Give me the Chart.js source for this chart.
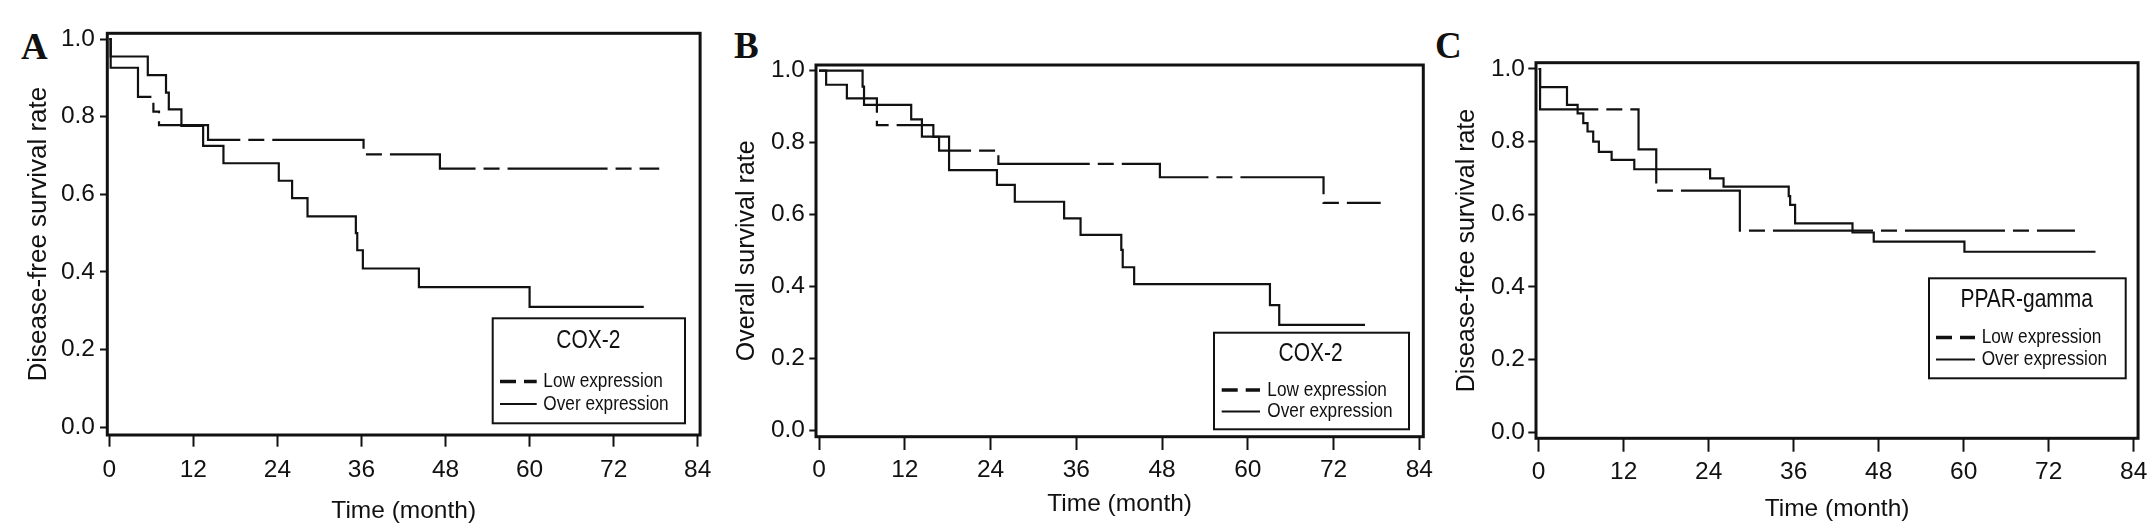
<!DOCTYPE html>
<html><head><meta charset="utf-8">
<script src="https://cdn.jsdelivr.net/npm/chart.js@4/dist/chart.umd.min.js"></script>
<style>
html,body{margin:0;padding:0;background:#fff;}
body{width:2153px;height:530px;position:relative;overflow:hidden;}
canvas{position:absolute;top:0;}
.lbl{position:absolute;font-family:"Liberation Serif","Times New Roman",serif;font-weight:bold;font-size:37px;line-height:37px;color:#111;}
</style></head><body>
<div class="lbl" style="left:21px;top:28px">A</div>
<div class="lbl" style="left:734px;top:27px">B</div>
<div class="lbl" style="left:1435px;top:27px">C</div>
<canvas id="cA" width="720" height="530" style="left:0px"></canvas>
<canvas id="cB" width="720" height="530" style="left:720px"></canvas>
<canvas id="cC" width="733" height="530" style="left:1420px"></canvas>
<script>
// ---------- data ----------
const monthTicks = [0, 12, 24, 36, 48, 60, 72, 84];
const rateTicks = [0, 0.2, 0.4, 0.6, 0.8, 1.0];
const seriesNames = ['Low expression', 'Over expression'];
const legendTitles = ['COX-2', 'COX-2', 'PPAR-gamma'];
const xTitle = 'Time (month)';
const yTitles = ['Disease-free survival rate', 'Overall survival rate', 'Disease-free survival rate'];

// Panel A (COX-2, disease-free)
const aLowTime  = [0, 0.2, 4.1, 6.3, 7.1, 14.1, 36.3, 47.2, 78.5];
const aLowRate  = [1.0, 0.926, 0.851, 0.813, 0.778, 0.740, 0.703, 0.666, 0.666];
const aOverTime = [0, 0.2, 5.5, 8.1, 8.5, 10.3, 13.4, 16.3, 24.2, 26.1, 28.3, 35.2, 35.4, 36.2, 44.2, 60.0, 76.3];
const aOverRate = [1.0, 0.955, 0.907, 0.862, 0.819, 0.776, 0.725, 0.680, 0.635, 0.590, 0.543, 0.500, 0.456, 0.409, 0.361, 0.310, 0.310];

// Panel B (COX-2, overall)
const bLowTime  = [0, 1.0, 3.9, 8.1, 16.0, 16.8, 25.1, 47.7, 70.6, 78.6];
const bLowRate  = [1.0, 0.961, 0.923, 0.849, 0.816, 0.778, 0.741, 0.704, 0.633, 0.633];
const bOverTime = [0, 6.1, 6.3, 12.9, 14.4, 18.2, 24.9, 27.4, 34.3, 36.6, 42.3, 42.5, 44.1, 63.1, 64.4, 76.4];
const bOverRate = [1.0, 0.956, 0.905, 0.865, 0.817, 0.724, 0.683, 0.636, 0.590, 0.544, 0.502, 0.454, 0.407, 0.349, 0.294, 0.294];

// Panel C (PPAR-gamma, disease-free)
const cLowTime  = [0, 0.2, 14.1, 16.6, 28.4, 75.7];
const cLowRate  = [1.0, 0.889, 0.779, 0.665, 0.555, 0.555];
const cOverTime = [0, 0.2, 4.0, 5.5, 6.3, 6.9, 7.7, 8.5, 10.3, 13.5, 24.2, 26.1, 35.3, 35.5, 36.2, 44.3, 47.3, 60.1, 78.6];
const cOverRate = [1.0, 0.950, 0.901, 0.878, 0.851, 0.828, 0.800, 0.772, 0.750, 0.724, 0.699, 0.676, 0.650, 0.626, 0.575, 0.550, 0.525, 0.497, 0.497];

// ---------- styling / layout ----------
const INK = '#111';
const SANS = '"Liberation Sans", Arial, Helvetica, sans-serif';

const panels = [
  { id:'cA', cl:0, cw:720, frame:{l:107.3, r:706.7, t:33.3, b:435}, xr:[-0.28, 84.34], yr:[-0.0198, 1.0147],
    yTick:[7.3,5], xTick:[11.7,8.6], yTitle:[26,23.1], xTitleS:[24.5,4.3],
    legend:{x:492.7, y:318.3, w:192.3, h:105, tx:588.3, ty:341.5, rows:[381.5,404], s0:500, s1:536.7, lx:543.3},
    low:[aLowTime,aLowRate], over:[aOverTime,aOverRate] },
  { id:'cB', cl:720, cw:720, frame:{l:816, r:1423.3, t:65, b:436.7}, xr:[-0.42, 84.56], yr:[-0.0167, 1.0158],
    yTick:[6.7,4.3], xTick:[13.3,5.3], yTitle:[25,12], xTitleS:[24.5,11.3],
    legend:{x:1214, y:332.7, w:195, h:96.6, tx:1310.7, ty:354, rows:[390,411.5], s0:1221.7, s1:1260, lx:1267.3},
    low:[bLowTime,bLowRate], over:[bOverTime,bOverRate] },
  { id:'cC', cl:1420, cw:733, frame:{l:1536, r:2149.3, t:62.7, b:438.3}, xr:[-0.374, 84.61], yr:[-0.0165, 1.0173],
    yTick:[7.7,3.3], xTick:[13.4,5.6], yTitle:[25,31.7], xTitleS:[24.5,5.8],
    legend:{x:1929, y:278.3, w:196.7, h:100, tx:2026.7, ty:300, rows:[337.5,359.5], s0:1936, s1:1975, lx:1981.7},
    low:[cLowTime,cLowRate], over:[cOverTime,cOverRate] }
];

const kmPlugin = {
  id: 'kmFrame',
  afterDatasetsDraw(chart, args, opts) {
    const ctx = chart.ctx, a = chart.chartArea, L = opts.legend, off = opts.offset;
    ctx.save();
    ctx.strokeStyle = INK; ctx.fillStyle = INK;
    ctx.lineWidth = 3; ctx.setLineDash([]);
    ctx.strokeRect(a.left, a.top, a.right - a.left, a.bottom - a.top);
    // legend box
    ctx.fillStyle = '#fff';
    ctx.fillRect(L.x - off, L.y, L.w, L.h);
    ctx.lineWidth = 2;
    ctx.strokeRect(L.x - off, L.y, L.w, L.h);
    ctx.fillStyle = INK;
    ctx.textBaseline = 'middle';
    // title (narrow face emulated by horizontal compression)
    ctx.save();
    ctx.font = '25px ' + SANS;
    ctx.translate(L.tx - off, L.ty);
    ctx.scale(0.84, 1);
    ctx.textAlign = 'center';
    ctx.fillText(opts.title, 0, 0);
    ctx.restore();
    ctx.font = '21px ' + SANS;
    chart.data.datasets.forEach((ds, i) => {
      const y = L.rows[i];
      ctx.beginPath();
      if (i === 0) { ctx.setLineDash([16, 8]); ctx.lineWidth = 3.5; }
      else { ctx.setLineDash([]); ctx.lineWidth = 2; }
      ctx.moveTo(L.s0 - off, y); ctx.lineTo(L.s1 - off, y); ctx.stroke();
      ctx.setLineDash([]);
      ctx.save();
      ctx.translate(L.lx - off, y);
      ctx.scale(0.82, 1);
      ctx.textAlign = 'left';
      ctx.fillText(ds.label, 0, 0);
      ctx.restore();
    });
    ctx.restore();
  }
};

function pts(t, s) { return t.map((v, i) => ({ x: v, y: s[i] })); }

panels.forEach((p, idx) => {
  const off = p.cl, f = p.frame;
  const lineBase = { stepped: 'before', pointRadius: 0, borderColor: INK, borderWidth: 2.2,
    fill: false, tension: 0, borderCapStyle: 'butt', borderJoinStyle: 'miter' };
  new Chart(document.getElementById(p.id), {
    type: 'line',
    data: { datasets: [
      Object.assign({ label: seriesNames[0], data: pts(p.low[0], p.low[1]), borderDash: [100, 8, 16, 8] }, lineBase),
      Object.assign({ label: seriesNames[1], data: pts(p.over[0], p.over[1]) }, lineBase)
    ]},
    options: {
      responsive: false, animation: false, devicePixelRatio: 1,
      layout: { padding: { left: 0, bottom: 0, top: f.t, right: (off + p.cw) - f.r } },
      plugins: { legend: { display: false }, tooltip: { enabled: false },
        kmFrame: { legend: p.legend, offset: off, title: legendTitles[idx] } },
      scales: {
        x: { type: 'linear', position: 'bottom', min: p.xr[0], max: p.xr[1],
          afterFit: s => { s.height = 530 - f.b; },
          afterBuildTicks: s => { s.ticks = monthTicks.map(v => ({ value: v })); },
          border: { display: false },
          grid: { display: true, drawOnChartArea: false, drawTicks: true, tickLength: p.xTick[0], tickWidth: 2, tickColor: INK },
          ticks: { color: INK, padding: p.xTick[1], autoSkip: false, maxRotation: 0, font: { family: SANS, size: 24.5 },
            callback: v => String(v) },
          title: { display: true, text: xTitle, color: INK, font: { family: SANS, size: p.xTitleS[0] },
            padding: { top: 0, bottom: p.xTitleS[1] } } },
        y: { type: 'linear', position: 'left', min: p.yr[0], max: p.yr[1],
          afterFit: s => { s.width = f.l - off; },
          afterBuildTicks: s => { s.ticks = rateTicks.map(v => ({ value: v })); },
          border: { display: false },
          grid: { display: true, drawOnChartArea: false, drawTicks: true, tickLength: p.yTick[0], tickWidth: 2, tickColor: INK },
          ticks: { color: INK, padding: p.yTick[1], autoSkip: false, font: { family: SANS, size: 24.5 },
            callback: v => Number(v).toFixed(1) },
          title: { display: true, text: yTitles[idx], color: INK, font: { family: SANS, size: p.yTitle[0] },
            padding: { top: p.yTitle[1], bottom: 0 } } }
      }
    },
    plugins: [kmPlugin]
  });
});
</script>
</body></html>
